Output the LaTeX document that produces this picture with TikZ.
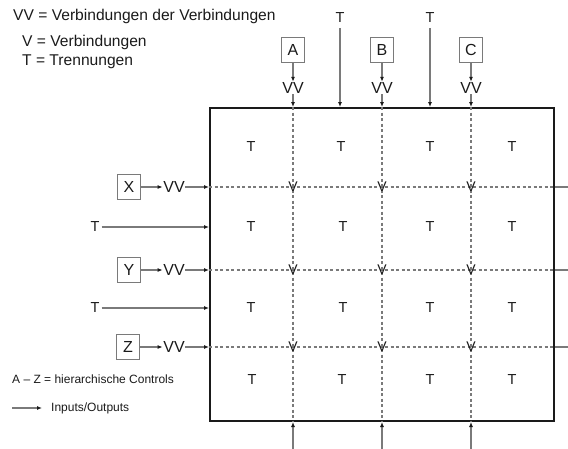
\documentclass[tikz,border=0pt]{standalone}
\usepackage{fontspec}
\setmainfont{Liberation Sans}
\usetikzlibrary{arrows.meta}

\definecolor{linie}{HTML}{7A7A7A}
\definecolor{schrift}{HTML}{1A1A1A}

\tikzset{
  pfeil/.style={draw=linie, line width=1.2pt, -{Latex[length=5pt,width=4pt,color=schrift]}},
  raster/.style={draw=linie, line width=1.4pt, dash pattern=on 3pt off 2.5pt},
  ctrl/.style={draw=linie, line width=1pt, minimum width=23pt, minimum height=25pt,
    inner sep=0pt, font=\fontsize{16}{16}\selectfont},
  vv/.style={inner sep=0.5pt, font=\fontsize{16}{16}\selectfont},
  trenn/.style={inner sep=2pt, font=\fontsize{14.5}{14.5}\selectfont},
  verb/.style={inner sep=0pt, font=\fontsize{14}{14}\selectfont},
  legende/.style={anchor=west, inner sep=0pt, font=\fontsize{15.6}{15.6}\selectfont},
  klein/.style={anchor=west, inner sep=0pt, font=\fontsize{12}{12}\selectfont},
}

\begin{document}
\begin{tikzpicture}[x=1pt, y=-1pt, text=schrift]
    \useasboundingbox (0,0) rectangle (568,448);

    \node[legende] (lVV) at (13,16) {VV = Verbindungen der Verbindungen};
    \node[legende] (lV) at (22,42) {V = Verbindungen};
    \node[legende] (lT) at (22,62) {T = Trennungen};
    \node[klein] (lAZ) at (12,379) {A -- Z = hierarchische Controls};
    \node[klein] (lIO) at (51,408) {Inputs/Outputs};
    \coordinate (lpfeil) at (12,408);

    \node[draw=schrift, line width=2pt, minimum width=344pt, minimum height=313pt,
      inner sep=0pt] (feld) at (382,264.5) {};

    \node[ctrl] (A) at (293,50) {A};
    \node[ctrl] (B) at (382,50) {B};
    \node[ctrl] (C) at (471,50) {C};
    \node[vv] (vvA) at (293,88) {VV};
    \node[vv] (vvB) at (382,88) {VV};
    \node[vv] (vvC) at (471,88) {VV};
    \node[trenn] (tO1) at (340,18) {T};
    \node[trenn] (tO2) at (430,18) {T};

    \node[ctrl] (X) at (129,187) {X};
    \node[ctrl] (Y) at (129,270) {Y};
    \node[ctrl] (Z) at (128,347) {Z};
    \node[vv] (vvX) at (174,187) {VV};
    \node[vv] (vvY) at (174,270) {VV};
    \node[vv] (vvZ) at (174,347) {VV};
    \node[trenn] (tL1) at (95,227) {T};
    \node[trenn] (tL2) at (95,308) {T};

    \coordinate (u1) at (293,455);
    \coordinate (u2) at (382,455);
    \coordinate (u3) at (471,455);

    \draw[raster] (vvA |- feld.north) -- (vvA |- feld.south);
    \draw[raster] (vvB |- feld.north) -- (vvB |- feld.south);
    \draw[raster] (vvC |- feld.north) -- (vvC |- feld.south);
    \draw[raster] (vvX -| feld.west) -- (vvX -| feld.east);
    \draw[raster] (vvY -| feld.west) -- (vvY -| feld.east);
    \draw[raster] (vvZ -| feld.west) -- (vvZ -| feld.east);

    \node[trenn] (t11) at (251,147) {T};
    \node[trenn] (t12) at (341,147) {T};
    \node[trenn] (t13) at (430,147) {T};
    \node[trenn] (t14) at (512,147) {T};
    \node[trenn] (t21) at (251,227) {T};
    \node[trenn] (t22) at (343,227) {T};
    \node[trenn] (t23) at (430,227) {T};
    \node[trenn] (t24) at (512,227) {T};
    \node[trenn] (t31) at (251,308) {T};
    \node[trenn] (t32) at (343,308) {T};
    \node[trenn] (t33) at (430,308) {T};
    \node[trenn] (t34) at (512,308) {T};
    \node[trenn] (t41) at (252,380) {T};
    \node[trenn] (t42) at (342,380) {T};
    \node[trenn] (t43) at (430,380) {T};
    \node[trenn] (t44) at (512,380) {T};

    \node[verb] (vAX) at (vvA |- vvX) {V};
    \node[verb] (vBX) at (vvB |- vvX) {V};
    \node[verb] (vCX) at (vvC |- vvX) {V};
    \node[verb] (vAY) at (vvA |- vvY) {V};
    \node[verb] (vBY) at (vvB |- vvY) {V};
    \node[verb] (vCY) at (vvC |- vvY) {V};
    \node[verb] (vAZ) at (vvA |- vvZ) {V};
    \node[verb] (vBZ) at (vvB |- vvZ) {V};
    \node[verb] (vCZ) at (vvC |- vvZ) {V};

    \draw[pfeil] (A) -- (vvA);
    \draw[pfeil] (vvA) -- (vvA |- feld.north);
    \draw[pfeil] (B) -- (vvB);
    \draw[pfeil] (vvB) -- (vvB |- feld.north);
    \draw[pfeil] (C) -- (vvC);
    \draw[pfeil] (vvC) -- (vvC |- feld.north);
    \draw[pfeil, shorten <=3pt] (tO1) -- (tO1 |- feld.north);
    \draw[pfeil, shorten <=3pt] (tO2) -- (tO2 |- feld.north);

    \draw[pfeil] (X) -- (vvX);
    \draw[pfeil] (vvX) -- (vvX -| feld.west);
    \draw[pfeil] (Y) -- (vvY);
    \draw[pfeil] (vvY) -- (vvY -| feld.west);
    \draw[pfeil] (Z) -- (vvZ);
    \draw[pfeil] (vvZ) -- (vvZ -| feld.west);
    \draw[pfeil] (tL1) -- (tL1 -| feld.west);
    \draw[pfeil] (tL2) -- (tL2 -| feld.west);

    \draw[pfeil] (vvX -| feld.east) -- ++(30,0);
    \draw[pfeil] (vvY -| feld.east) -- ++(30,0);
    \draw[pfeil] (vvZ -| feld.east) -- ++(30,0);
    \draw[pfeil] (u1) -- (u1 |- feld.south);
    \draw[pfeil] (u2) -- (u2 |- feld.south);
    \draw[pfeil] (u3) -- (u3 |- feld.south);

    \draw[pfeil, shorten >=9pt] (lpfeil) -- (lIO);
  \end{tikzpicture}
\end{document}
